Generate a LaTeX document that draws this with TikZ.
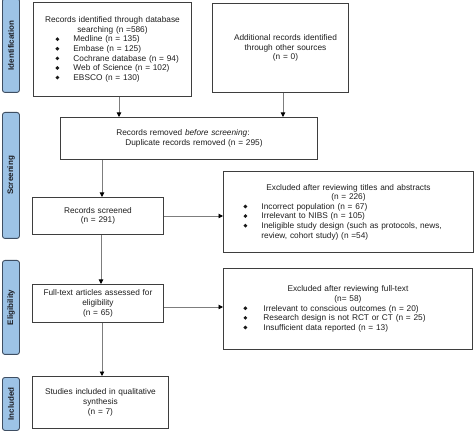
\documentclass[tikz,border=0pt]{standalone}
\usepackage{fontspec}
\setmainfont{Liberation Sans}
\usetikzlibrary{arrows.meta}
\definecolor{boxline}{RGB}{62,62,62}
\definecolor{arrline}{RGB}{125,125,125}
\definecolor{phasefill}{RGB}{157,195,230}
\definecolor{phaseline}{RGB}{62,78,98}
\definecolor{phasetext}{RGB}{30,30,35}
\newcommand\bul{\tikz[baseline={(0pt,-2.8pt)}]\fill[black!90] (0pt,0pt) circle (1.95pt);}
\newcommand\bitem[4]{\makebox[#1][l]{\hspace*{#2}\makebox[#3][l]{\bul}#4}}
\begin{document}
\begin{tikzpicture}[x=1pt,y=-1pt,
  flowbox/.style={draw=boxline, line width=0.9pt, fill=white, inner sep=0pt, anchor=north west,
    align=center, font=\fontsize{8.3}{9.6}\selectfont, text=black!88},
  phase/.style={draw=phaseline, line width=0.9pt, fill=phasefill, rounded corners=2.5pt, inner sep=0pt,
    anchor=north west, minimum width=17pt, text=phasetext},
  phasetxt/.style={rotate=90, font=\bfseries\fontsize{8}{9}\selectfont, text=phasetext},
  arr/.style={draw=arrline, line width=0.9pt, -{Triangle[length=4.5pt,width=4.5pt,color=black]}}]
\useasboundingbox (0,0) rectangle (474,446);

% phase labels
\node[phase, minimum height=94pt] (lid) at (2,-2) {};
\node[phasetxt] at (lid.center) {Identification};
\node[phase, minimum height=126pt] (lsc) at (2,112) {};
\node[phasetxt] at (lsc.center) {Screening};
\node[phase, minimum height=94pt] (lel) at (2,260) {};
\node[phasetxt] at (lel.center) {Eligibility};
\node[phase, minimum height=53pt] (lin) at (2,377) {};
\node[phasetxt] at (lin.center) {Included};

% boxes
\node[flowbox, minimum width=158pt, minimum height=94pt, text width=158pt] (box1) at (33,2)
 {Records identified through database\\
  searching (n =586)\\
  \bitem{158pt}{22pt}{18pt}{Medline (n = 135)}\\
  \bitem{158pt}{22pt}{18pt}{Embase (n = 125)}\\
  \bitem{158pt}{22pt}{18pt}{Cochrane database (n = 94)}\\
  \bitem{158pt}{22pt}{18pt}{Web of Science (n = 102)}\\
  \bitem{158pt}{22pt}{18pt}{EBSCO (n = 130)}};

\node[flowbox, minimum width=136pt, minimum height=89pt, text width=136pt] (box2) at (212,3)
 {\hspace*{10pt}Additional records identified\\
  \hspace*{10pt}through other sources\\
  \hspace*{10pt}(n = 0)};

\node[flowbox, minimum width=257pt, minimum height=42pt, text width=257pt] (removed) at (60,117)
 {\hspace*{-12pt}Records removed \textit{before screening}:\\
  \hspace*{10pt}Duplicate records removed (n = 295)};

\node[flowbox, minimum width=131pt, minimum height=37pt, text width=131pt] (screened) at (32,197)
 {Records screened\\(n = 291)};

\node[flowbox, minimum width=250pt, minimum height=81pt, text width=250pt] (excl1) at (223,171)
 {Excluded after reviewing titles and abstracts\\
  (n = 226)\\
  \bitem{250pt}{20pt}{18pt}{Incorrect population (n = 67)}\\
  \bitem{250pt}{20pt}{18pt}{Irrelevant to NIBS (n = 105)}\\
  \bitem{250pt}{20pt}{18pt}{Ineligible study design (such as protocols, news,}\\
  \makebox[250pt][l]{\hspace*{38pt}review, cohort study) (n =54)}};

\node[flowbox, minimum width=131pt, minimum height=38pt, text width=131pt] (fulltext) at (32,284)
 {Full-text articles assessed for\\eligibility\\(n = 65)};

\node[flowbox, minimum width=249pt, minimum height=81pt, text width=249pt] (excl2) at (223,268)
 {Excluded after reviewing full-text\\
  (n= 58)\\
  \bitem{249pt}{20pt}{20pt}{Irrelevant to conscious outcomes (n = 20)}\\
  \bitem{249pt}{20pt}{20pt}{Research design is not RCT or CT (n = 25)}\\
  \bitem{249pt}{20pt}{20pt}{Insufficient data reported (n = 13)}};

\node[flowbox, minimum width=136pt, minimum height=52pt, text width=136pt] (included) at (32,376)
 {Studies included in qualitative\\synthesis\\(n = 7)};

% connectors
\draw[arr] (box1.south -| 119,0) -- (removed.north -| 119,0);
\draw[arr] (box2.south -| 283,0) -- (removed.north -| 283,0);
\draw[arr] (removed.south -| 102,0) -- (screened.north -| 102,0);
\draw[arr] (screened.east |- 0,216) -- (excl1.west |- 0,216);
\draw[arr] (screened.south -| 101,0) -- (fulltext.north -| 101,0);
\draw[arr] (fulltext.east |- 0,307) -- (excl2.west |- 0,307);
\draw[arr] (fulltext.south -| 102,0) -- (included.north -| 102,0);
\end{tikzpicture}
\end{document}
